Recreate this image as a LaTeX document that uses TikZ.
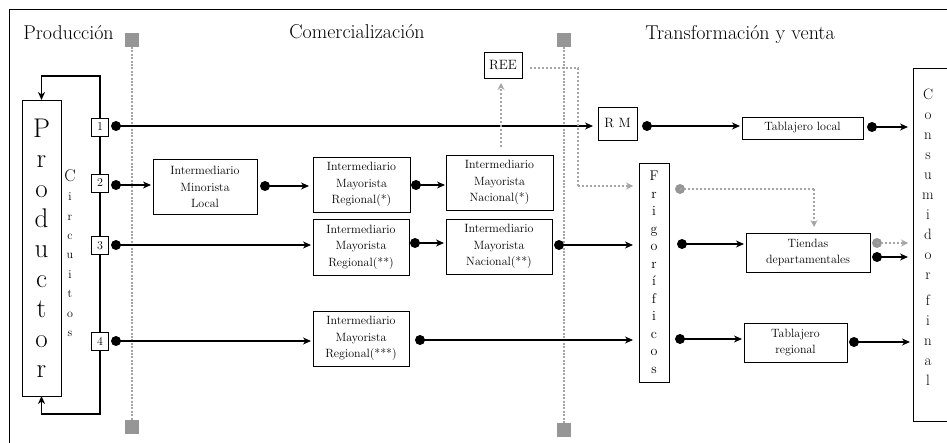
\documentclass[tikz,border=0pt]{standalone}
\usetikzlibrary{arrows.meta}
\definecolor{sqgray}{RGB}{150,150,150}
\definecolor{dotgray}{RGB}{165,165,165}
\begin{document}
\begin{tikzpicture}[x=1pt,y=-1pt,
  every node/.style={inner sep=0pt, outer sep=0pt},
  bx/.style={draw, line width=0.8pt, align=center, fill=white, font=\fontsize{12}{16.5}\selectfont},
  numbx/.style={draw, line width=0.8pt, fill=white, minimum width=17pt, minimum height=18pt, font=\fontsize{12}{14}\selectfont},
  title/.style={anchor=base, font=\fontsize{20}{22}\selectfont},
  dot/.style={circle, fill=black, minimum size=10pt},
  gdot/.style={circle, fill=sqgray, minimum size=10pt},
  gsq/.style={fill=sqgray, minimum size=14pt},
  sepline/.style={draw=dotgray, line width=2.6pt, dash pattern=on 2pt off 1.4pt},
  arr/.style={line width=1.2pt, -{Stealth[length=8pt,width=7pt,inset=2.5pt]}, shorten >=2pt},
  garr/.style={draw=dotgray, line width=1.6pt, dash pattern=on 2pt off 2pt, -{Stealth[length=7pt,width=7pt,inset=2.5pt,sep=0pt]}},
  gline/.style={draw=dotgray, line width=1.6pt, dash pattern=on 2pt off 2pt},
  lineplain/.style={line width=1.2pt}
]
\useasboundingbox (0,0) rectangle (947,443);
% outer frame (cut off at right and bottom)
\draw[line width=0.9pt] (9,460) -- (9,9.5) -- (960,9.5);

% titles
\node[title] (tprod) at (68.5,40) {Producción};
\node[title] (tcom) at (357,39) {Comercialización};
\node[title] (ttra) at (740,40) {Transformación y venta};

% separators
\node[gsq] (s1t) at (132,40) {};
\node[gsq] (s1b) at (132,427) {};
\node[gsq] (s2t) at (564,40) {};
\node[gsq] (s2b) at (564,430) {};
\draw[sepline] (s1t.south) -- (s1b.north);
\draw[sepline] (s2t.south) -- (s2b.north);

% productor and circuits
\node[bx, minimum width=39pt, minimum height=296pt, font=\fontsize{27}{30}\selectfont] (prod) at (41.5,248) {P\\r\\o\\d\\u\\c\\t\\o\\r};
\node[align=center, font=\fontsize{12}{19.4}\selectfont] (circ) at (70,253) {{\fontsize{17}{19.4}\selectfont C}\\i\\r\\c\\u\\i\\t\\o\\s};
\node[numbx] (c1) at (100,127) {1};
\node[numbx] (c2) at (100,183) {2};
\node[numbx] (c3) at (100,245.5) {3};
\node[numbx] (c4) at (100,341) {4};
\coordinate (lt) at (100,76);
\coordinate (lb) at (100,414);
\draw[arr, shorten >=0pt] (c1.north) -- (lt) -| (prod.north);
\draw[arr, shorten >=0pt] (c4.south) -- (lb) -| (prod.south);
\draw[lineplain] (c1.south) -- (c2.north);
\draw[lineplain] (c2.south) -- (c3.north);
\draw[lineplain] (c3.south) -- (c4.north);

% commercial boxes
\node[bx, minimum width=104pt, minimum height=55pt] (iml) at (205,187) {Intermediario\\Minorista\\Local};
\node[bx, minimum width=97pt, minimum height=55pt] (imrA) at (361.5,184.5) {Intermediario\\Mayorista\\Regional(*)};
\node[bx, minimum width=107pt, minimum height=55pt] (imnA) at (499.5,182.5) {Intermediario\\Mayorista\\Nacional(*)};
\node[bx, minimum width=96pt, minimum height=56pt] (imrB) at (361,247) {Intermediario\\Mayorista\\Regional(**)};
\node[bx, minimum width=106pt, minimum height=55pt] (imnB) at (499,246.5) {Intermediario\\Mayorista\\Nacional(**)};
\node[bx, minimum width=96pt, minimum height=55pt] (imrC) at (361,338.5) {Intermediario\\Mayorista\\Regional(***)};
\node[bx, minimum width=38pt, minimum height=26pt, font=\fontsize{13.5}{16}\selectfont] (ree) at (503,65) {REE};

% transformation
\node[bx, minimum width=39pt, minimum height=33pt, font=\fontsize{13.5}{16}\selectfont] (rm) at (617.5,123.5) {R M};
\node[bx, minimum width=121pt, minimum height=22pt] (tabloc) at (802.5,128) {Tablajero local};
\node[bx, minimum width=30pt, minimum height=219pt, font=\fontsize{14}{17.5}\selectfont] (frig) at (654,272.5) {F\\r\\i\\g\\o\\r\\í\\f\\i\\c\\o\\s};
\node[bx, minimum width=124pt, minimum height=39pt] (tiendas) at (808,252.5) {Tiendas\\departamentales};
\node[bx, minimum width=103pt, minimum height=39pt] (tabreg) at (795.5,342.5) {Tablajero\\regional};
\node[draw, line width=0.8pt, fill=white, minimum width=45pt, minimum height=353pt, anchor=north west] (cons) at (913,68) {};
\node[align=center, font=\fontsize{15}{20}\selectfont] (consl) at (928,237) {C\\o\\n\\s\\u\\m\\i\\d\\o\\r\\[6pt]f\\i\\n\\a\\l};

% dots
\node[dot] (d1) at (116,126) {};
\node[dot] (d2) at (116,185) {};
\node[dot] (d3) at (116,245) {};
\node[dot] (d4) at (116,341) {};
\node[dot] (d2b) at (265,186) {};
\node[dot] (d2c) at (416,185) {};
\node[dot] (d3b) at (415,243) {};
\node[dot] (d3c) at (559,245) {};
\node[dot] (d4b) at (420,340) {};
\node[dot] (drm) at (647,126) {};
\node[dot] (dtl) at (872,127) {};
\node[gdot] (gfd) at (680,189) {};
\node[dot] (dfr1) at (682,244) {};
\node[dot] (dfr2) at (680,339) {};
\node[gdot] (dti1) at (877,243) {};
\node[dot] (dti2) at (877,257) {};
\node[dot] (dtr) at (854,342) {};

% black connectors
\draw[arr, shorten >=5pt] (d1.center) -- (d1.center -| rm.west);
\draw[arr] (d2.center) -- (d2.center -| iml.west);
\draw[arr, shorten >=4pt] (d2b.center) -- (d2b.center -| imrA.west);
\draw[arr, shorten >=1pt] (d2c.center) -- (d2c.center -| imnA.west);
\draw[arr] (d3.center) -- (d3.center -| imrB.west);
\draw[arr] (d3b.center) -- (d3b.center -| imnB.west);
\draw[arr, shorten >=6pt] (d3c.center) -- (d3c.center -| frig.west);
\draw[arr] (d4.center) -- (d4.center -| imrC.west);
\draw[arr, shorten >=6pt] (d4b.center) -- (d4b.center -| frig.west);
\draw[arr] (drm.center) -- (drm.center -| tabloc.west);
\draw[arr, shorten >=5pt] (dtl.center) -- (dtl.center -| cons.west);
\draw[arr] (dfr1.center) -- (dfr1.center -| tiendas.west);
\draw[arr] (dfr2.center) -- (dfr2.center -| tabreg.west);
\draw[arr, shorten >=5pt] (dti2.center) -- (dti2.center -| cons.west);
\draw[arr, shorten >=3pt] (dtr.center) -- (dtr.center -| cons.west);

% gray dotted connectors
\coordinate (ra) at (501,147);
\draw[garr, shorten >=5pt] (ra) -- (ra |- ree.south);
\coordinate (rc0) at (530,68);
\coordinate (rc1) at (578,68);
\coordinate (rc2) at (578,186);
\draw[gline] (rc0) -- (rc1) -- (rc2);
\draw[garr, shorten >=6pt] (rc2) -- (rc2 -| frig.west);
\coordinate (gc) at (814,189);
\draw[gline] (gfd.center) -- (gc);
\draw[garr, shorten >=6pt] (gc) -- (gc |- tiendas.north);
\draw[garr, shorten >=5pt] (dti1.center) -- (dti1.center -| cons.west);
\end{tikzpicture}
\end{document}
